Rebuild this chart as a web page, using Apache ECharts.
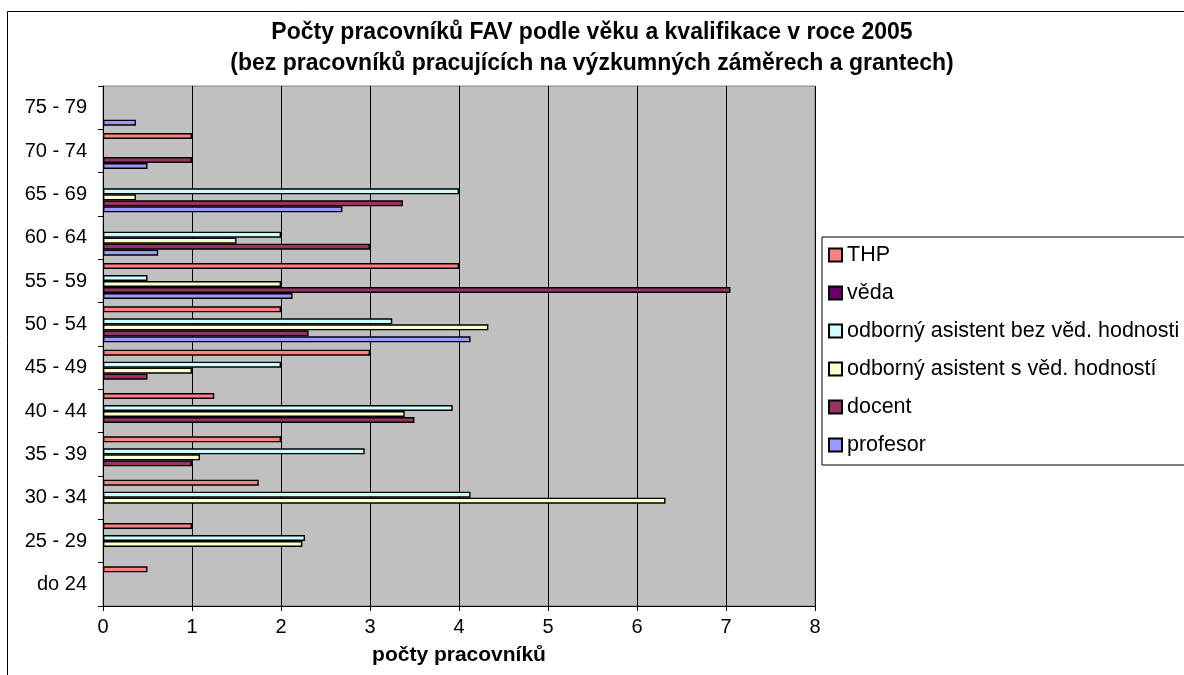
<!DOCTYPE html>
<html>
<head>
<meta charset="utf-8">
<script src="https://cdn.jsdelivr.net/npm/echarts@6/dist/echarts.min.js"></script>
<style>
  html, body { margin: 0; padding: 0; background: #ffffff; }
  #chart { width: 1184px; height: 675px; }
</style>
</head>
<body>
<div id="chart"></div>
<script>
// age groups, bottom to top
var vekoveSkupiny = ["do 24", "25 - 29", "30 - 34", "35 - 39", "40 - 44", "45 - 49",
  "50 - 54", "55 - 59", "60 - 64", "65 - 69", "70 - 74", "75 - 79"];

// counts per age group (null = no bar)
var thp       = [0.5, 1, 1.75, 2, 1.25, 3, 2, 4, null, null, 1, null];
var veda      = [null, null, null, null, null, null, null, null, null, null, null, null];
var asistBez  = [null, 2.27, 4.13, 2.94, 3.93, 2, 3.25, 0.5, 2, 4, null, null];
var asistS    = [null, 2.24, 6.32, 1.09, 3.39, 1, 4.33, 2, 1.5, 0.37, null, null];
var docent    = [null, null, null, 1, 3.5, 0.5, 2.31, 7.05, 3, 3.37, 1, null];
var profesor  = [null, null, null, null, null, null, 4.13, 2.13, 0.62, 2.69, 0.5, 0.37];

var xTicks = [0, 8, 1]; // min, max, interval

var font = "Liberation Sans, Arial, sans-serif";

function serie(name, data, color) {
  return {
    name: name,
    type: "bar",
    data: data,
    barGap: "0%",
    barCategoryGap: "17%",
    itemStyle: { color: color, borderColor: "#000000", borderWidth: 1.4 }
  };
}

var myChart = echarts.init(document.getElementById("chart"));
myChart.setOption({
  animation: false,
  textStyle: { fontFamily: font },
  graphic: [{
    type: "rect",
    shape: { x: 7.5, y: 11.5, width: 1300, height: 800 },
    style: { fill: "none", stroke: "#000000", lineWidth: 1 },
    z: -1
  }],
  title: {
    text: "Počty pracovníků FAV podle věku a kvalifikace v roce 2005\n(bez pracovníků pracujících na výzkumných záměrech a grantech)",
    left: "center",
    top: 12,
    padding: [5, 0, 5, 12],
    textStyle: { fontSize: 23, fontWeight: "bold", color: "#000000", lineHeight: 31, fontFamily: font }
  },
  legend: {
    orient: "vertical",
    left: 822,
    top: 237,
    padding: [7, 10, 9, 6],
    itemGap: 16,
    itemWidth: 13,
    itemHeight: 13,
    icon: "rect",
    backgroundColor: "#ffffff",
    borderColor: "#000000",
    borderWidth: 1,
    borderRadius: 0,
    textStyle: { fontSize: 21.5, color: "#000000", fontFamily: font },
    data: ["THP", "věda", "odborný asistent bez věd. hodnosti", "odborný asistent s věd. hodností", "docent", "profesor"]
  },
  grid: {
    left: 103,
    top: 86,
    right: 369,
    bottom: 69,
    show: true,
    backgroundColor: "#c0c0c0",
    borderColor: "#808080",
    borderWidth: 1
  },
  xAxis: {
    type: "value",
    min: xTicks[0],
    max: xTicks[1],
    interval: xTicks[2],
    name: "počty pracovníků",
    nameLocation: "middle",
    nameGap: 39,
    nameTextStyle: { fontSize: 21, fontWeight: "bold", color: "#000000" },
    axisLine: { show: true, lineStyle: { color: "#000000", width: 1 } },
    axisTick: { show: true, length: 5, lineStyle: { color: "#000000" } },
    axisLabel: { fontSize: 20, color: "#000000", margin: 11 },
    splitLine: { show: true, lineStyle: { color: "#000000", width: 1 } }
  },
  yAxis: {
    type: "category",
    data: vekoveSkupiny,
    axisLine: { show: true, lineStyle: { color: "#000000", width: 1 } },
    axisTick: { show: true, length: 5, inside: false, lineStyle: { color: "#000000" } },
    axisLabel: { fontSize: 20, color: "#000000", margin: 16 },
    splitLine: { show: false }
  },
  series: [
    serie("THP", thp, "#ff8080"),
    serie("věda", veda, "#660066"),
    serie("odborný asistent bez věd. hodnosti", asistBez, "#ccffff"),
    serie("odborný asistent s věd. hodností", asistS, "#ffffcc"),
    serie("docent", docent, "#993366"),
    serie("profesor", profesor, "#9999ff")
  ]
});
</script>
</body>
</html>
